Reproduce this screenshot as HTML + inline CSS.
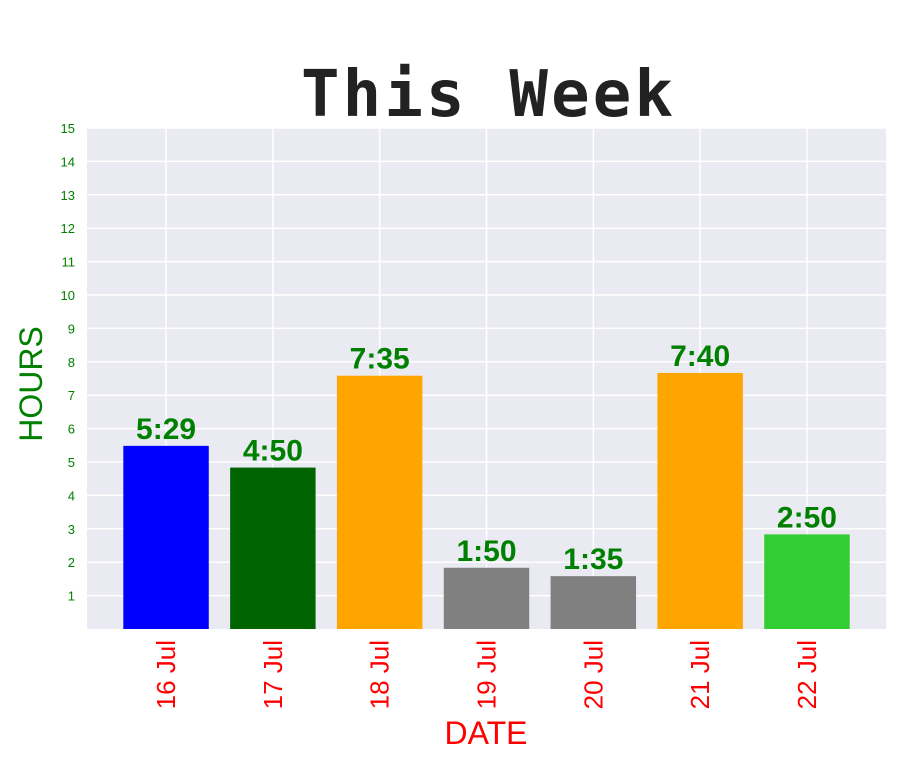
<!DOCTYPE html>
<html><head><meta charset="utf-8"><style>
body{margin:0;background:#fff;width:916px;height:756px;overflow:hidden}
svg text{font-family:"Liberation Sans",sans-serif}
</style></head><body>
<svg id="chart" width="916" height="756" xmlns="http://www.w3.org/2000/svg">
<text x="487" y="116" text-anchor="middle" textLength="372" style="font-family:'DejaVu Sans Mono',monospace;font-weight:bold;font-size:64px" fill="#222">This Week</text>
<rect x="87" y="128" width="799" height="501" fill="#eaeaf2"/>
<g id="grid"></g><g id="bars"></g><g id="labels"></g><g id="yticks"></g><g id="xticks"></g>
<text transform="translate(42,384) rotate(-90)" text-anchor="middle" font-size="32" fill="green">HOURS</text>
<text x="486" y="744" text-anchor="middle" font-size="32" fill="red">DATE</text>
</svg>
<script>
const categories=["16 Jul","17 Jul","18 Jul","19 Jul","20 Jul","21 Jul","22 Jul"];
const values=[5.483,4.833,7.583,1.833,1.583,7.667,2.833];
const valueLabels=["5:29","4:50","7:35","1:50","1:35","7:40","2:50"];
const colors=["blue","#006400","orange","gray","gray","orange","limegreen"];
const yTicks=[1,2,3,4,5,6,7,8,9,10,11,12,13,14,15];
const L=87,R=886,T=128,B=629;
const xMin=-0.74,xMax=6.74;
const x=i=>L+(i-xMin)/(xMax-xMin)*(R-L);
const y=v=>B-v/15*(B-T);
const bw=0.8*(R-L)/(xMax-xMin);
const NS="http://www.w3.org/2000/svg";
function mk(t,p,a){const e=document.createElementNS(NS,t);for(const k in a)e.setAttribute(k,a[k]);document.getElementById(p).appendChild(e);return e;}
yTicks.forEach(v=>{
const g=mk('line','grid',{x1:L,x2:R,y1:y(v),y2:y(v),stroke:'#fff','stroke-width':1.5});


const t=mk('text','yticks',{x:75,y:y(v)+5,'text-anchor':'end','font-size':13,fill:'green'});t.textContent=v;


});
categories.forEach((c,i)=>{
const g=mk('line','grid',{x1:x(i),x2:x(i),y1:T,y2:B,stroke:'#fff','stroke-width':1.5});


const b=mk('rect','bars',{x:x(i)-bw/2,y:y(values[i]),width:bw,height:B-y(values[i]),fill:colors[i]});


const l=mk('text','labels',{x:x(i),y:y(values[i])-7,'text-anchor':'middle','font-size':30,'font-weight':'bold',fill:'green'});l.textContent=valueLabels[i];


const t=mk('text','xticks',{transform:`translate(${x(i)+9},640) rotate(-90)`,'text-anchor':'end','font-size':26,fill:'red'});t.textContent=c;


});
</script>
</body></html>
